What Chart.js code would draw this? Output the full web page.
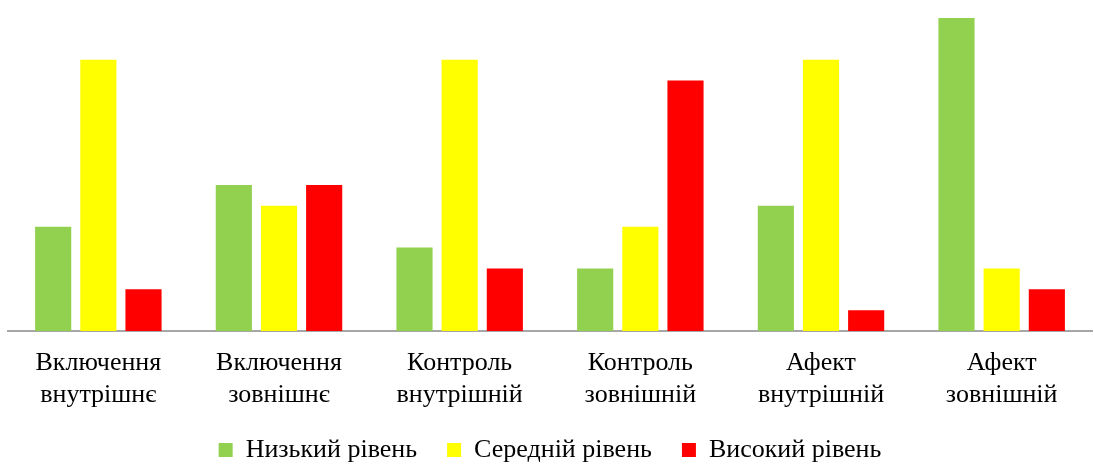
<!DOCTYPE html>
<html><head><meta charset="utf-8">
<script src="https://cdn.jsdelivr.net/npm/chart.js@4/dist/chart.umd.min.js"></script>
<style>html,body{margin:0;padding:0;background:#fff}#wrap{width:1094px;height:464px}</style>
</head><body><div id="wrap"><canvas id="c"></canvas></div>
<script>
const categories = [["Включення","внутрішнє"],["Включення","зовнішнє"],["Контроль","внутрішній"],["Контроль","зовнішній"],["Афект","внутрішній"],["Афект","зовнішній"]];
const lowLevel = [5, 7, 4, 3, 6, 15];
const midLevel = [13, 6, 13, 5, 13, 3];
const highLevel = [2, 7, 3, 12, 1, 2];
const seriesNames = ["Низький рівень", "Середній рівень", "Високий рівень"];

const legendNudge = {
  id: 'legendNudge',
  afterLayout(chart) {
    const l = chart.legend;
    if (l) { l.top -= 20; l.bottom = chart.height; l.height = l.bottom - l.top; }
  }
};

new Chart(document.getElementById('c'), {
  type: 'bar',
  data: {
    labels: categories,
    datasets: [
      {label: seriesNames[0], data: lowLevel, backgroundColor: '#92d050'},
      {label: seriesNames[1], data: midLevel, backgroundColor: '#ffff00'},
      {label: seriesNames[2], data: highLevel, backgroundColor: '#ff0000'}
    ]
  },
  plugins: [legendNudge],
  options: {
    responsive: true, maintainAspectRatio: false, animation: false,
    layout: {padding: {left: 8, right: 2, top: 18, bottom: 0}},
    datasets: {bar: {barPercentage: 0.8, categoryPercentage: 0.75}},
    plugins: {
      tooltip: {enabled: false},
      legend: {
        position: 'bottom',
        maxHeight: 37,
        labels: {font: {family: 'Liberation Serif', size: 26}, color: '#000', boxWidth: 14, boxHeight: 14, padding: 30}
      }
    },
    scales: {
      x: {
        grid: {display: false, drawTicks: false},
        border: {display: true, color: '#a6a6a6', width: 2},
        ticks: {font: {family: 'Liberation Serif', size: 26, lineHeight: 1.23}, color: '#000', padding: 16, maxRotation: 0}
      },
      y: {display: false, min: 0, max: 15}
    }
  }
});
</script></body></html>
